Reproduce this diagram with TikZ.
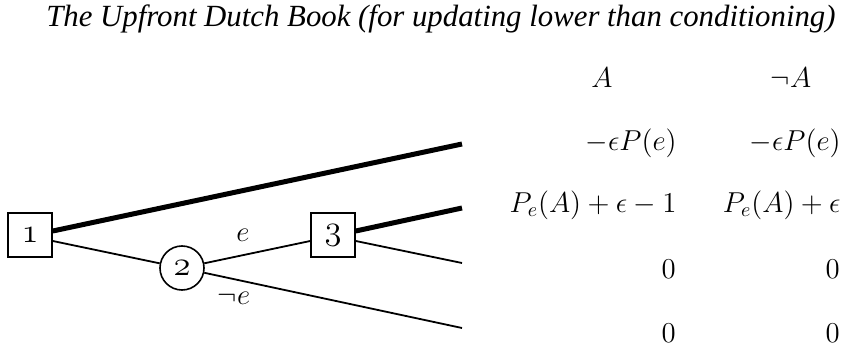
\documentclass[tikz,border=0pt]{standalone}
\usepackage{fontspec}
\setmainfont{Liberation Serif}
\begin{document}
\begin{tikzpicture}[x=0.5pt,y=-0.5pt,
  decbox/.style={draw,line width=0.8pt,minimum size=22pt,inner sep=0pt,font=\fontsize{16}{17}\selectfont},
  chancenode/.style={draw,circle,line width=0.8pt,minimum size=22pt,inner sep=0pt,font=\fontsize{16}{17}\selectfont},
  thin/.style={line width=0.9pt},
  thick/.style={line width=2.5pt},
  cell/.style={anchor=east,inner sep=0pt,font=\fontsize{14.3}{16}\selectfont},
  hdr/.style={anchor=base,inner sep=0pt,font=\fontsize{14.3}{16}\selectfont},
  lbl/.style={inner sep=0pt,font=\fontsize{14.3}{16}\selectfont}]
\useasboundingbox (0,0) rectangle (843,348);
\node[anchor=base east,inner sep=0pt,font=\fontsize{15.4}{17}\selectfont\itshape] (title) at (836,26) {The Upfront Dutch Book (for updating lower than conditioning)};
\node[decbox] (b1) at (30,235) {$\mathnormal{1}$};
\node[chancenode] (c2) at (182,268) {$\mathnormal{2}$};
\node[decbox] (b3) at (333,235) {$\mathnormal{3}$};
\coordinate (e1) at (462,144);
\coordinate (e2) at (462,208);
\coordinate (e3) at (462,263);
\coordinate (e4) at (462,328);
\draw[thick] ([yshift=2pt]b1.east) -- (e1);
\draw[thin] ([yshift=-3pt]b1.east) -- (c2);
\draw[thin] (c2) -- ([yshift=-3pt]b3.west);
\draw[thin] (c2) -- (e4);
\draw[thick] ([yshift=2pt]b3.east) -- (e2);
\draw[thin] ([yshift=-3pt]b3.east) -- (e3);
\node[lbl] (le) at (243,235) {$e$};
\node[lbl] (lne) at (234,298) {$\neg e$};
\node[hdr] (hA) at (602,87) {$A$};
\node[hdr] (hnA) at (791,87) {$\neg A$};
\node[cell] (r1a) at (677,143) {$-\epsilon P(e)$};
\node[cell] (r1b) at (841,143) {$-\epsilon P(e)$};
\node[cell] (r2a) at (677,205) {$P_e(A)+\epsilon-1$};
\node[cell] (r2b) at (841,205) {$P_e(A)+\epsilon$};
\node[cell] (r3a) at (676,269) {$0$};
\node[cell] (r3b) at (840,269) {$0$};
\node[cell] (r4a) at (676,333) {$0$};
\node[cell] (r4b) at (840,333) {$0$};
\end{tikzpicture}
\end{document}
